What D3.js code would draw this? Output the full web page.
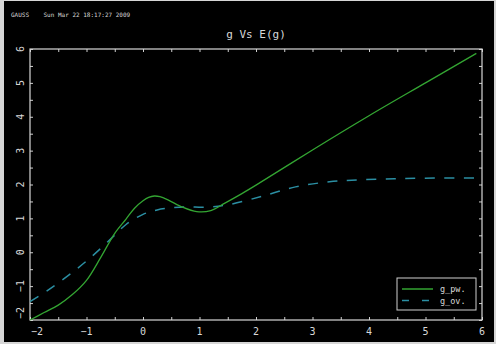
<!DOCTYPE html>
<html>
<head>
<meta charset="utf-8">
<script src="https://d3js.org/d3.v7.min.js"></script>
<style>
    body { margin: 0; background: #d6d6d6; }
    #chart-area { width: 496px; height: 344px; }
    text { font-family: "DejaVu Sans Mono", monospace; fill: #d8d8d8; }
</style>
</head>
<body>
<div id="chart-area"></div>
<script>
// values
let pwX = [-2, -1.75, -1.5, -1.25, -1, -0.75, -0.5, -0.3, -0.15, 0, 0.1, 0.2, 0.3, 0.45, 0.7, 0.95, 1.2, 1.45, 1.75, 2, 3, 4, 5, 5.9];
let pwY = [-2, -1.78, -1.56, -1.25, -0.83, -0.16, 0.56, 0.98, 1.3, 1.52, 1.62, 1.66, 1.64, 1.54, 1.33, 1.2, 1.23, 1.45, 1.73, 1.98, 3.02, 4.03, 5.0, 5.87];

let ovX = [-2, -1.68, -1.27, -0.91, -0.56, -0.3, 0, 0.25, 0.5, 0.77, 1.1, 1.5, 2.1, 2.7, 3.3, 3.85, 4.5, 5.2, 5.9];
let ovY = [-1.46, -1.12, -0.62, -0.13, 0.41, 0.82, 1.12, 1.25, 1.31, 1.34, 1.33, 1.4, 1.65, 1.93, 2.08, 2.14, 2.17, 2.19, 2.19];

let xTicks = [-2, -1, 0, 1, 2, 3, 4, 5, 6];
let yTicks = [-2, -1, 0, 1, 2, 3, 4, 5, 6];
let seriesNames = ["g_pw.", "g_ov."];

class PlotVis {
    constructor(_parentElement) {
        this.parentElement = _parentElement;
        this.initVis();
    }

    initVis() {
        let vis = this;

        vis.margin = { top: 49, right: 14, bottom: 24, left: 30 };
        vis.width = 496 - vis.margin.left - vis.margin.right;
        vis.height = 344 - vis.margin.top - vis.margin.bottom;

        vis.root = d3.select("#" + vis.parentElement).append("svg")
            .attr("width", 496)
            .attr("height", 344);

        // black canvas inside the grey border
        vis.root.append("rect")
            .attr("x", 4).attr("y", 1)
            .attr("width", 490).attr("height", 341)
            .attr("fill", "#000");

        vis.root.append("text")
            .attr("x", 11).attr("y", 17)
            .style("font-size", "6px")
            .attr("xml:space", "preserve")
            .text("GAUSS    Sun Mar 22 18:17:27 2009");

        vis.root.append("text")
            .attr("x", 256).attr("y", 38)
            .attr("text-anchor", "middle")
            .style("font-size", "11px")
            .text("g Vs E(g)");

        vis.svg = vis.root.append("g")
            .attr("transform", "translate(" + vis.margin.left + "," + vis.margin.top + ")");

        // Scales
        vis.x = d3.scaleLinear().domain([-2, 6]).range([0, vis.width]);
        vis.y = d3.scaleLinear().domain([-2, 6]).range([vis.height, 0]);

        vis.wrangleData();
    }

    wrangleData() {
        let vis = this;
        vis.pw = pwX.map((d, i) => [d, pwY[i]]);
        vis.ov = ovX.map((d, i) => [d, ovY[i]]);
        vis.updateVis();
    }

    updateVis() {
        let vis = this;
        let halfTicks = d3.range(-2, 6.01, 0.5);

        // inward ticks on all four sides
        vis.svg.append("g").attr("class", "x-axis")
            .attr("transform", "translate(0," + vis.height + ")")
            .call(d3.axisTop(vis.x).tickValues(halfTicks).tickSize(3).tickFormat(""));
        vis.svg.append("g")
            .call(d3.axisBottom(vis.x).tickValues(halfTicks).tickSize(3).tickFormat(""));
        vis.svg.append("g")
            .call(d3.axisRight(vis.y).tickValues(halfTicks).tickSize(3).tickFormat(""));
        vis.svg.append("g")
            .attr("transform", "translate(" + vis.width + ",0)")
            .call(d3.axisLeft(vis.y).tickValues(halfTicks).tickSize(3).tickFormat(""));
        vis.svg.selectAll(".domain").remove();
        vis.svg.selectAll(".tick line").attr("stroke", "#cfcfcf");

        // frame
        vis.svg.append("rect")
            .attr("width", vis.width).attr("height", vis.height)
            .attr("fill", "none")
            .attr("stroke", "#d8d8d8")
            .attr("stroke-width", 1.2);

        // tick labels
        vis.svg.selectAll(".x-label")
            .data(xTicks)
            .enter().append("text")
            .attr("class", "x-label")
            .attr("x", d => vis.x(d) + (d === -2 ? 1 : 0))
            .attr("y", vis.height + 15)
            .attr("text-anchor", d => (d === -2 ? "start" : "middle"))
            .style("font-size", "10px")
            .text(d => (d < 0 ? "\u2212" + Math.abs(d) : d));

        vis.svg.selectAll(".y-label")
            .data(yTicks)
            .enter().append("text")
            .attr("class", "y-label")
            .attr("transform", d => "translate(-6," + (vis.y(d) + (d === -2 ? -1 : 0)) + ") rotate(-90)")
            .attr("text-anchor", d => (d === -2 ? "start" : "middle"))
            .style("font-size", "10px")
            .text(d => (d < 0 ? "\u2212" + Math.abs(d) : d));

        let line = d3.line()
            .x(d => vis.x(d[0]))
            .y(d => vis.y(d[1]))
            .curve(d3.curveCatmullRom.alpha(0.5));

        vis.svg.append("path")
            .datum(vis.ov)
            .attr("d", line)
            .attr("fill", "none")
            .attr("stroke", "#2b8fa3")
            .attr("stroke-width", 1.5)
            .attr("stroke-dasharray", "10,9.5");

        vis.svg.append("path")
            .datum(vis.pw)
            .attr("d", line)
            .attr("fill", "none")
            .attr("stroke", "#33a532")
            .attr("stroke-width", 1.3);

        // legend
        let lg = vis.root.append("g").attr("transform", "translate(397,278)");
        lg.append("rect")
            .attr("width", 79).attr("height", 32)
            .attr("fill", "#000")
            .attr("stroke", "#cfcfcf");
        let styles = [{ c: "#33a532", dash: null }, { c: "#2b8fa3", dash: "7,13" }];
        seriesNames.forEach((name, i) => {
            lg.append("line")
                .attr("x1", 5).attr("x2", 36)
                .attr("y1", 11 + i * 11.5).attr("y2", 11 + i * 11.5)
                .attr("stroke", styles[i].c)
                .attr("stroke-width", 1.5)
                .attr("stroke-dasharray", styles[i].dash);
            lg.append("text")
                .attr("x", 43).attr("y", 14 + i * 11.5)
                .style("font-size", "8.5px")
                .text(name);
        });
    }
}

new PlotVis("chart-area");
</script>
</body>
</html>
